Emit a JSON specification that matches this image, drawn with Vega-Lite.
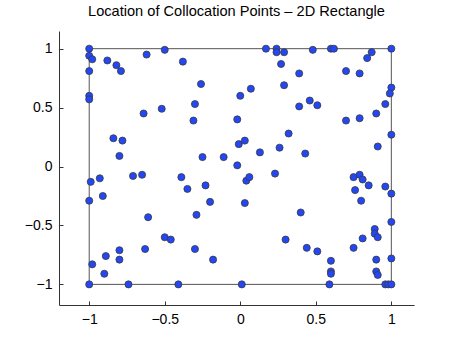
{
  "$schema": "https://vega.github.io/schema/vega-lite/v6.json",
  "width": 355,
  "height": 274,
  "autosize": "none",
  "padding": {"left": 59, "top": 31, "right": 43, "bottom": 38},
  "background": "white",
  "title": {"text": "Location of Collocation Points – 2D Rectangle", "fontSize": 14.6, "fontWeight": "normal", "font": "Liberation Sans", "color": "black", "offset": 12},
  "config": {
    "view": {"stroke": null},
    "axis": {"grid": false, "domainColor": "#333", "tickColor": "#333", "tickSize": -4, "labelPadding": 11, "labelFont": "Liberation Sans", "labelFontSize": 14, "labelColor": "black", "title": null, "domainWidth": 1}
  },
  "datasets": {
    "pts": [
      {"x": -1, "y": 1.0}, {"x": -1, "y": 0.94}, {"x": -0.98, "y": 0.91}, {"x": -1, "y": 0.81}, {"x": -1, "y": 0.60}, {"x": -1, "y": 0.57},
      {"x": -0.88, "y": 0.90}, {"x": -0.82, "y": 0.86}, {"x": -0.79, "y": 0.81}, {"x": -0.62, "y": 0.95}, {"x": -0.50, "y": 0.99}, {"x": -0.38, "y": 0.89},
      {"x": -0.64, "y": 0.45}, {"x": -0.52, "y": 0.49}, {"x": -0.84, "y": 0.24}, {"x": -0.78, "y": 0.22}, {"x": -0.80, "y": 0.09},
      {"x": 0.17, "y": 1.0}, {"x": 0.24, "y": 1.0}, {"x": 0.24, "y": 0.97}, {"x": 0.29, "y": 0.97}, {"x": 0.27, "y": 0.87}, {"x": 0.39, "y": 0.79},
      {"x": -0.26, "y": 0.70}, {"x": 0.07, "y": 0.66}, {"x": 0.0, "y": 0.60}, {"x": 0.29, "y": 0.69}, {"x": -0.30, "y": 0.53}, {"x": 0.39, "y": 0.51},
      {"x": -0.31, "y": 0.39}, {"x": -0.02, "y": 0.40}, {"x": 0.32, "y": 0.28}, {"x": -0.01, "y": 0.19}, {"x": 0.03, "y": 0.22}, {"x": 0.26, "y": 0.16},
      {"x": 0.13, "y": 0.12}, {"x": -0.25, "y": 0.08}, {"x": -0.11, "y": 0.08}, {"x": -0.02, "y": 0.01},
      {"x": 0.48, "y": 0.99}, {"x": 0.60, "y": 1.0}, {"x": 0.62, "y": 1.0}, {"x": 1.0, "y": 1.0}, {"x": 0.87, "y": 0.97}, {"x": 0.84, "y": 0.92},
      {"x": 0.70, "y": 0.81}, {"x": 0.79, "y": 0.79}, {"x": 1.0, "y": 0.67}, {"x": 0.99, "y": 0.62}, {"x": 0.96, "y": 0.53}, {"x": 0.46, "y": 0.56},
      {"x": 0.51, "y": 0.52}, {"x": 0.70, "y": 0.39}, {"x": 0.79, "y": 0.41}, {"x": 0.90, "y": 0.45}, {"x": 1.0, "y": 0.27}, {"x": 0.91, "y": 0.17}, {"x": 0.43, "y": 0.11},
      {"x": -0.99, "y": -0.13}, {"x": -0.93, "y": -0.10}, {"x": -1, "y": -0.29}, {"x": -0.91, "y": -0.25}, {"x": -0.71, "y": -0.08}, {"x": -0.65, "y": -0.07},
      {"x": -0.39, "y": -0.09}, {"x": -0.35, "y": -0.19}, {"x": -0.61, "y": -0.43}, {"x": -0.50, "y": -0.60}, {"x": -0.46, "y": -0.62}, {"x": -0.63, "y": -0.70},
      {"x": -0.80, "y": -0.71}, {"x": -0.80, "y": -0.79}, {"x": -0.89, "y": -0.76}, {"x": -0.98, "y": -0.83}, {"x": -0.90, "y": -0.91}, {"x": -1, "y": -1},
      {"x": -0.74, "y": -1}, {"x": -0.41, "y": -1},
      {"x": -0.23, "y": -0.16}, {"x": -0.20, "y": -0.30}, {"x": -0.29, "y": -0.41}, {"x": 0.04, "y": -0.12}, {"x": 0.06, "y": -0.09}, {"x": 0.23, "y": -0.06},
      {"x": 0.03, "y": -0.31}, {"x": 0.30, "y": -0.62}, {"x": -0.30, "y": -0.70}, {"x": -0.18, "y": -0.79}, {"x": 0.01, "y": -1.0}, {"x": 0.40, "y": -0.39},
      {"x": 0.75, "y": -0.09}, {"x": 0.79, "y": -0.07}, {"x": 0.81, "y": -0.11}, {"x": 0.85, "y": -0.16}, {"x": 0.96, "y": -0.17}, {"x": 1.0, "y": -0.23},
      {"x": 0.76, "y": -0.20}, {"x": 0.80, "y": -0.29}, {"x": 1.0, "y": -0.47}, {"x": 0.89, "y": -0.53}, {"x": 0.89, "y": -0.57}, {"x": 0.91, "y": -0.60},
      {"x": 0.81, "y": -0.61}, {"x": 0.75, "y": -0.69}, {"x": 0.44, "y": -0.69}, {"x": 0.51, "y": -0.72}, {"x": 0.60, "y": -0.80}, {"x": 0.60, "y": -0.89},
      {"x": 0.60, "y": -0.91}, {"x": 0.59, "y": -1.0}, {"x": 0.90, "y": -0.79}, {"x": 0.90, "y": -0.89}, {"x": 0.91, "y": -0.92}, {"x": 1.0, "y": -0.78},
      {"x": 0.96, "y": -1.0}, {"x": 0.98, "y": -1.0}, {"x": 1.0, "y": -1.0}
    ],
    "box": [{"x0": -1, "x1": 1, "y0": -1, "y1": 1}]
  },
  "layer": [
    {
      "data": {"name": "box"},
      "mark": {"type": "rect", "fill": null, "fillOpacity": 0, "stroke": "#555", "strokeWidth": 1},
      "encoding": {
        "x": {"field": "x0", "type": "quantitative", "scale": {"domain": [-1.2, 1.15], "nice": false, "zero": false},
              "axis": {"values": [-1, -0.5, 0, 0.5, 1], "format": ".1~f"}},
        "x2": {"field": "x1"},
        "y": {"field": "y0", "type": "quantitative", "scale": {"domain": [-1.175, 1.15], "nice": false, "zero": false},
              "axis": {"values": [-1, -0.5, 0, 0.5, 1], "format": ".1~f"}},
        "y2": {"field": "y1"}
      }
    },
    {
      "data": {"name": "pts"},
      "mark": {"type": "point", "filled": true, "fill": "#2447f5", "stroke": "#3a3a3a", "strokeWidth": 0.8, "size": 50, "opacity": 1},
      "encoding": {
        "x": {"field": "x", "type": "quantitative"},
        "y": {"field": "y", "type": "quantitative"}
      }
    }
  ]
}
